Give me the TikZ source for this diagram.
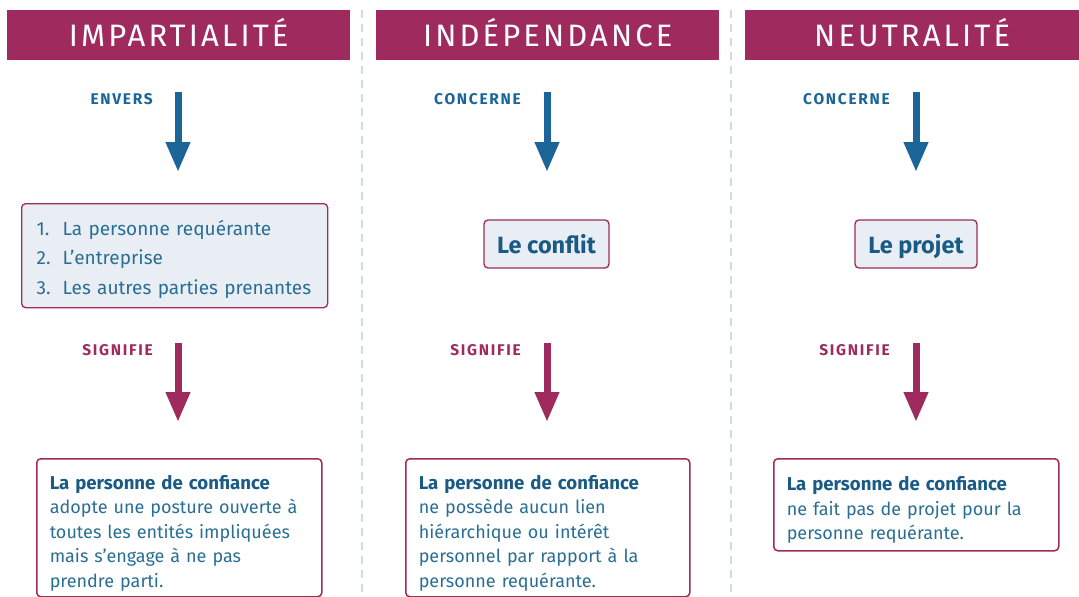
\documentclass[tikz,border=0pt]{standalone}
\usepackage{fontspec}
\setmainfont{Fira Sans}
\usetikzlibrary{positioning, arrows.meta}

\definecolor{titlered}{HTML}{9E2A5E}
\definecolor{arrowblue}{HTML}{1B6598}
\definecolor{textblue}{HTML}{2A6E93}
\definecolor{darkblue}{HTML}{1A5B86}
\definecolor{boxfill}{HTML}{E8EEF4}
\definecolor{sepblue}{HTML}{C9DCEA}

\tikzset{
  banner/.style={fill=titlered, text=white, anchor=north west,
    minimum width=343pt, minimum height=50pt, inner sep=0pt,
    text height=22pt, text depth=0pt,
    font=\fontsize{31}{31}\selectfont\addfontfeature{LetterSpace=10}},
  bluelab/.style={text=arrowblue, anchor=east, inner sep=0pt,
    font=\bfseries\fontsize{15.5}{15.5}\selectfont\addfontfeature{LetterSpace=11}},
  redlab/.style={bluelab, text=titlered},
  bluearrow/.style={draw=arrowblue, line width=7pt,
    -{Triangle[width=23pt, length=30pt]}},
  redarrow/.style={bluearrow, draw=titlered},
  subject/.style={draw=titlered, line width=1.3pt, fill=boxfill,
    rounded corners=4pt, text=darkblue, inner sep=0pt,
    text height=20pt, text depth=2pt,
    font=\bfseries\fontsize{23.5}{23.5}\selectfont},
  confbox/.style={draw=titlered, line width=1.5pt, fill=white,
    rounded corners=4pt, anchor=north west, align=left,
    inner xsep=13pt, inner ysep=0pt, text=textblue,
    font=\fontsize{18}{24.5}\selectfont},
  separator/.style={draw=sepblue, line width=1.2pt, dash pattern=on 8pt off 6pt}
}

\newcommand{\conftitle}{\rule{0pt}{25pt}{\bfseries\fontsize{18.6}{24.5}\selectfont\color{darkblue}La personne de confiance}}

\begin{document}
\begin{tikzpicture}[x=1pt, y=-1pt]
    \useasboundingbox (0,0) rectangle (1079,597);

    % column titles
    \node[banner] (imp) at (7,10) {IMPARTIALITÉ};
    \node[banner] (ind) at (376,10) {INDÉPENDANCE};
    \node[banner, minimum width=334pt] (neu) at (745,10) {NEUTRALITÉ};

    % separators
    \coordinate (sep1a) at (362,10);
    \coordinate (sep1b) at (362,597);
    \coordinate (sep2a) at (731,10);
    \coordinate (sep2b) at (731,597);
    \draw[separator] (sep1a) -- (sep1b);
    \draw[separator] (sep2a) -- (sep2b);

    % first arrows
    \coordinate (top1) at (178,92);
    \coordinate (top2) at (547,92);
    \coordinate (top3) at (916,92);
    \coordinate (end1) at (178,172);
    \coordinate (end2) at (547,172);
    \coordinate (end3) at (916,172);
    \node[bluelab] (envers) at (153,99.5) {ENVERS};
    \node[bluelab] (conc2) at (521,99.5) {CONCERNE};
    \node[bluelab] (conc3) at (890,99.5) {CONCERNE};
    \draw[bluearrow] (top1) -- (end1);
    \draw[bluearrow] (top2) -- (end2);
    \draw[bluearrow] (top3) -- (end3);

    % what it concerns
    \node[draw=titlered, line width=1.3pt, fill=boxfill, rounded corners=4pt,
          anchor=north west, text width=276pt, minimum height=104pt,
          inner xsep=15pt, inner ysep=0pt, align=left, text=textblue,
          font=\fontsize{19}{29.5}\selectfont] (parties) at (21,203)
        {\rule{0pt}{22pt}\makebox[26pt][l]{1.}La personne requérante\\
         \makebox[26pt][l]{2.}L'entreprise\\
         \makebox[26pt][l]{3.}Les autres parties prenantes};
    \node[subject, minimum width=125pt, minimum height=48pt] (conflit) at (546.5,244) {Le conflit};
    \node[subject, minimum width=122pt, minimum height=48pt] (projet) at (916,244) {Le projet};

    % second arrows
    \coordinate (mid1) at (178,343);
    \coordinate (mid2) at (547,343);
    \coordinate (mid3) at (916,343);
    \coordinate (low1) at (178,422);
    \coordinate (low2) at (547,422);
    \coordinate (low3) at (916,422);
    \node[redlab] (sig1) at (153,350) {SIGNIFIE};
    \node[redlab] (sig2) at (521,350) {SIGNIFIE};
    \node[redlab] (sig3) at (890,350) {SIGNIFIE};
    \draw[redarrow] (mid1) -- (low1);
    \draw[redarrow] (mid2) -- (low2);
    \draw[redarrow] (mid3) -- (low3);

    % meaning
    \node[confbox, text width=259pt, minimum height=138pt] (mean1) at (36,458)
        {\conftitle\\adopte une posture ouverte à\\toutes les entités impliquées\\
         mais s'engage à ne pas\\prendre parti.};
    \node[confbox, text width=258pt, minimum height=138pt] (mean2) at (405,458)
        {\conftitle\\ne possède aucun lien\\hiérarchique ou intérêt\\
         personnel par rapport à la\\personne requérante.};
    \node[confbox, text width=259pt, minimum height=92pt] (mean3) at (773,458)
        {\conftitle\\ne fait pas de projet pour la\\personne requérante.};
\end{tikzpicture}
\end{document}
